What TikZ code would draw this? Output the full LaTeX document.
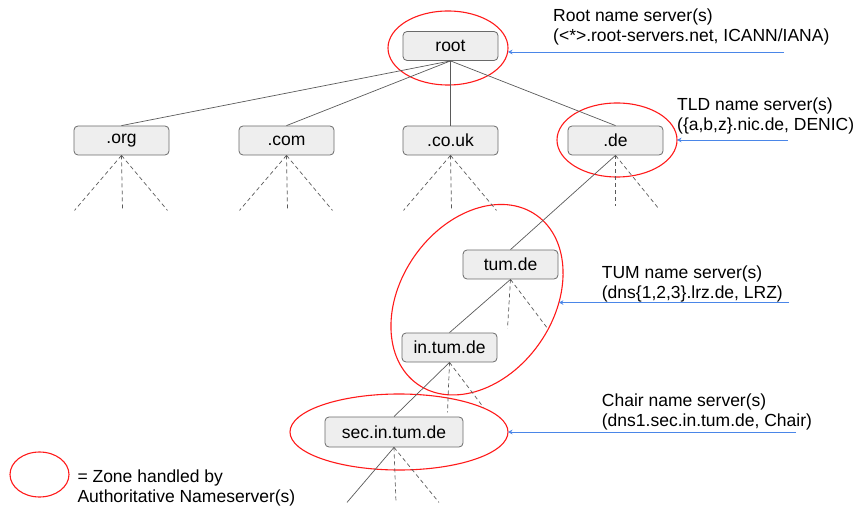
\documentclass[tikz,border=0pt]{standalone}
\usepackage{fontspec}
\setmainfont{Liberation Sans}
\usetikzlibrary{shapes.geometric,arrows.meta,calc}
\definecolor{boxfill}{HTML}{EEEEEE}
\definecolor{boxline}{HTML}{6A6A6A}
\definecolor{edgegray}{HTML}{5A5A5A}
\definecolor{zonered}{HTML}{FF1A1A}
\definecolor{ptrblue}{HTML}{4A86E8}
\begin{document}
\begin{tikzpicture}[x=1pt,y=1pt,
  every node/.style={font=\fontsize{17.5}{20}\selectfont},
  dnsbox/.style={draw=boxline, fill=boxfill, rounded corners=4pt, line width=0.8pt,
                 minimum width=95, minimum height=29, inner sep=0},
  zone/.style={ellipse, draw=zonered, line width=1.1pt, inner sep=0, outer sep=0},
  tree/.style={draw=edgegray, line width=0.7pt},
  sub/.style={draw=edgegray, line width=0.7pt, dash pattern=on 4pt off 3pt},
  ptr/.style={draw=ptrblue, line width=0.8pt, -{Stealth[length=4.5pt,width=4.5pt]}},
  note/.style={align=left, anchor=north west, inner sep=0}]
\useasboundingbox (0,0) rectangle (853,509);

% name servers of the DNS tree
\node[dnsbox] (root)  at (450.5,463)   {root};
\node[dnsbox] (org)   at (121.5,368.5) {.org};
\node[dnsbox] (com)   at (286.5,368.5) {.com};
\node[dnsbox] (couk)  at (450.5,368.5) {.co.uk};
\node[dnsbox] (de)    at (615.5,368.5) {.de};
\node[dnsbox] (tum)   at (510.5,244.5) {tum.de};
\node[dnsbox] (intum) at (449.5,161.5) {in.tum.de};
\node[dnsbox, minimum width=138, minimum height=30] (sec) at (394,77) {sec.in.tum.de};

% zones handled by authoritative name servers
\node[zone, minimum width=120, minimum height=74] (rootzone) at (448,461) {};
\node[zone, minimum width=120, minimum height=74] (dezone)   at (617,369) {};
\node[zone, minimum width=206.6, minimum height=152.4, rotate=55] (tumzone) at (477,209.3) {};
\node[zone, minimum width=218, minimum height=76] (seczone)  at (399,77) {};
\node[zone, minimum width=59, minimum height=45] (legendzone) at (39.5,34.5) {};

% delegations
\foreach \t in {org,com,couk,de}
  \draw[tree] (root.south) -- (\t.north);
\draw[tree] (de.south) -- (tum.north);
\draw[tree] (tum.south) -- (intum.north);
\draw[tree] (intum.south) -- (sec.north);
\coordinate (secchild) at ($(sec.south)+(-47,-55)$);
\draw[tree] (sec.south) -- (secchild);

% further subdomains
\foreach \t in {org,com,couk} {
  \coordinate (\t-a) at ($(\t.south)+(-47,-55)$);
  \coordinate (\t-b) at ($(\t.south)+(1,-55)$);
  \coordinate (\t-c) at ($(\t.south)+(46,-55)$);
  \draw[sub] (\t.south) -- (\t-a);
  \draw[sub] (\t.south) -- (\t-b);
  \draw[sub] (\t.south) -- (\t-c);
}
\coordinate (de-b) at ($(de.south)+(0,-51)$);
\coordinate (de-c) at ($(de.south)+(43,-53)$);
\draw[sub] (de.south) -- (de-b);
\draw[sub] (de.south) -- (de-c);
\coordinate (tum-b) at ($(tum.south)+(-3,-49)$);
\coordinate (tum-c) at ($(tum.south)+(37,-49)$);
\draw[sub] (tum.south) -- (tum-b);
\draw[sub] (tum.south) -- (tum-c);
\coordinate (intum-b) at ($(intum.south)+(-2,-50)$);
\coordinate (intum-c) at ($(intum.south)+(34,-45)$);
\draw[sub] (intum.south) -- (intum-b);
\draw[sub] (intum.south) -- (intum-c);
\coordinate (sec-b) at ($(sec.south)+(2,-55)$);
\coordinate (sec-c) at ($(sec.south)+(45,-55)$);
\draw[sub] (sec.south) -- (sec-b);
\draw[sub] (sec.south) -- (sec-c);

% operators of each zone
\node[note] (roottxt) at (553,500)
  {Root name server(s)\\(<*>.root-servers.net, ICANN/IANA)};
\node[note] (tldtxt) at (677,411.7)
  {TLD name server(s)\\(\{a,b,z\}.nic.de, DENIC)};
\node[note] (tumtxt) at (601.7,243.3)
  {TUM name server(s)\\(dns\{1,2,3\}.lrz.de, LRZ)};
\node[note] (chairtxt) at (601.7,115)
  {Chair name server(s)\\(dns1.sec.in.tum.de, Chair)};
\node[note] (legendtxt) at (77.3,39.7)
  {= Zone handled by\\Authoritative Nameserver(s)};

\coordinate (rootsrc)  at (784,457);
\coordinate (tldsrc)   at (788,369);
\coordinate (tumsrc)   at (789,207);
\coordinate (chairsrc) at (796,77);
\draw[ptr] (rootsrc) -- (rootsrc -| rootzone.east);
\draw[ptr] (tldsrc) -- (tldsrc -| dezone.east);
\draw[ptr] (tumzone.-57 -| tumsrc) -- (tumzone.-57);
\draw[ptr] (chairsrc) -- (chairsrc -| seczone.east);
\end{tikzpicture}
\end{document}
